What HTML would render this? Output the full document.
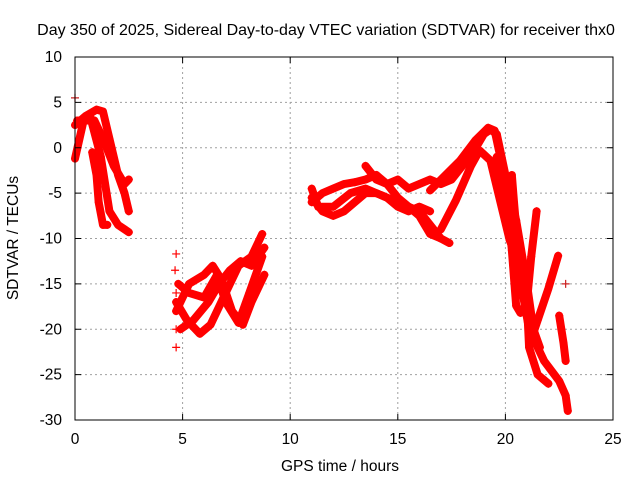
<!DOCTYPE html>
<html><head><meta charset="utf-8"><style>
body{margin:0;background:#fff}
svg{display:block;font-family:"Liberation Sans",sans-serif;font-size:15.5px}
</style></head><body>
<svg id="chart" width="640" height="480">
<text x="326" y="35" text-anchor="middle" style="font-size:16px">Day 350 of 2025, Sidereal Day-to-day VTEC variation (SDTVAR) for receiver thx0</text>
<text x="340" y="471" text-anchor="middle">GPS time / hours</text>
<text x="18" y="238" text-anchor="middle" transform="rotate(-90 18 238)">SDTVAR / TECUs</text>
<g id="grid"></g><g id="marks"></g>
<rect x="75" y="57" width="538" height="363" fill="none" stroke="#000"/>
<g id="ticks"></g>
</svg>
<script>
const xTicks=[0,5,10,15,20,25];
const yTicks=[10,5,0,-5,-10,-15,-20,-25,-30];
const trackA1=[[0,2.5],[0.5,3.5],[1,4.2],[1.3,4],[1.6,1],[2,-3],[2.3,-5],[2.5,-7]];
const trackA2=[[0,-1.2],[0.4,3],[0.7,3.5],[1.2,-1],[1.6,-7],[2,-8.5],[2.5,-9.3]];
const trackA3=[[0.1,3],[0.9,3],[1.3,1],[1.8,-2],[2.3,-4],[2.5,-3.5]];
const trackA4=[[0.8,-0.5],[1,-3],[1.1,-6],[1.3,-8.5],[1.5,-8.5]];
const trackB1=[[4.7,-17],[5.2,-19],[5.8,-20.5],[6.3,-19.5],[7,-16],[7.6,-13],[8.2,-12],[8.7,-9.5]];
const trackB2=[[4.8,-15],[5.3,-16],[6,-16.5],[6.6,-14],[7,-17],[7.6,-19.3],[8.1,-16],[8.7,-12]];
const trackB3=[[4.7,-18],[5.3,-15],[6,-14],[6.4,-13],[6.8,-14.5],[7.3,-18],[7.8,-19.5],[8.2,-17],[8.8,-14]];
const trackB4=[[4.9,-20],[5.5,-19],[6.2,-17],[6.7,-15],[7.2,-13.5],[7.7,-12.5],[8.2,-13],[8.8,-11]];
const trackB5=[[4.7,-11.7],[4.65,-13.5],[4.7,-16],[4.7,-20],[4.7,-22]];
const trackC1=[[11,-5.5],[11.5,-7],[12,-7.5],[12.5,-7],[13,-6],[13.5,-5],[14,-5],[14.5,-5.5],[15,-6],[15.5,-6.5],[16,-7],[16.5,-8.5],[17,-10],[17.4,-10.5]];
const trackC2=[[11,-6],[11.5,-5],[12,-4.5],[12.5,-4],[13,-3.8],[13.5,-3.5],[14,-3],[14.5,-4],[15,-5.5],[15.5,-6.5],[16,-7.5],[16.5,-9.5],[17,-10]];
const trackC3=[[11,-4.5],[11.3,-6.5],[12,-6.5],[12.8,-5],[13.5,-4.5],[14.5,-5.5],[15,-6.5],[15.5,-7],[16,-6.5],[16.5,-7]];
const trackC4=[[13.5,-2],[14,-3.5],[14.5,-4],[15,-3.5],[15.5,-4.5],[16,-4],[16.5,-3.5],[17,-4],[17.5,-3.5],[18,-2],[18.5,-0.5],[19,1.5],[19.3,2],[19.6,1.5],[20,-3],[20.5,-8],[21,-15],[21.3,-20],[21.6,-22]];
const trackD1=[[16.5,-4.7],[17.9,-1.4],[18.6,0.8],[19.2,2.2],[19.5,1.9],[20,-3.6],[20.3,-11.3],[20.5,-17.4],[20.7,-18.2]];
const trackD2=[[17,-9],[17.7,-5.8],[18.4,-2],[18.8,-0.3],[19.3,-1.4],[19.75,-5.8],[20.2,-10.2],[20.6,-12.5]];
const trackD3=[[19.6,-1],[20,-5],[20.3,-3],[20.4,-6],[20.6,-11.5]];
const trackD4=[[21.45,-7],[21.2,-12],[21,-17],[21.1,-22],[21.5,-25],[22,-26]];
const trackD5=[[22.45,-11.9],[22,-15.5],[21.5,-19],[21.1,-21.8]];
const trackD6=[[20,-4],[20.7,-14.7],[21.1,-20],[21.8,-23.5],[22.5,-25.7],[22.8,-27.3],[22.9,-29]];
const trackD7=[[22.5,-18.5],[22.6,-20],[22.7,-21.5],[22.8,-23.5]];
const trackE=[[0,5.5],[22.8,-15]];
const tracks=[trackA1,trackA2,trackA3,trackA4,trackB1,trackB2,trackB3,trackB4,trackC1,trackC2,trackC3,trackC4,trackD1,trackD2,trackD3,trackD4,trackD5,trackD6,trackD7];
const NS='http://www.w3.org/2000/svg';
const X0=75,X1=613,Y0=420,Y1=57;
function sx(h){return X0+(h-0)/(25-0)*(X1-X0);}
function sy(v){return Y0-(v+30)/(40)*(Y0-Y1);}
const grid=document.getElementById('grid'),ticks=document.getElementById('ticks'),marks=document.getElementById('marks');
function mk(tag,attrs,parent){const e=document.createElementNS(NS,tag);for(const k in attrs)e.setAttribute(k,attrs[k]);parent.appendChild(e);return e;}
xTicks.forEach(t=>{
 const x=sx(t);
 if(t>0&&t<25){const g=mk('line',{x1:x,x2:x,y1:Y1,y2:Y0,stroke:'#a0a0a0','stroke-dasharray':'2,3'},grid);
 
 }
 const l=mk('text',{x:x,y:444,'text-anchor':'middle'},ticks);l.textContent=t;
 
 
 mk('line',{x1:x,x2:x,y1:Y0,y2:Y0-6,stroke:'#000'},ticks);
 mk('line',{x1:x,x2:x,y1:Y1,y2:Y1+6,stroke:'#000'},ticks);
});
yTicks.forEach(t=>{
 const y=sy(t);
 if(t>-30&&t<10){const g=mk('line',{x1:X0,x2:X1,y1:y,y2:y,stroke:'#a0a0a0','stroke-dasharray':'2,3'},grid);
 
 }
 const l=mk('text',{x:62,y:y+5,'text-anchor':'end'},ticks);l.textContent=t;
 
 
 mk('line',{x1:X0,x2:X0+6,y1:y,y2:y,stroke:'#000'},ticks);
 mk('line',{x1:X1,x2:X1-6,y1:y,y2:y,stroke:'#000'},ticks);
});
function cross(h,v,color){
 const x=sx(h),y=sy(v);
 const p=mk('path',{d:`M${x-4},${y}H${x+4}M${x},${y-4}V${y+4}`,stroke:color,'stroke-width':1.2},marks);
 
 
}
tracks.forEach(tr=>{
 const pl=mk('polyline',{points:tr.map(p=>sx(p[0])+','+sy(p[1])).join(' '),fill:'none',stroke:'#ff0000','stroke-width':8,'stroke-linejoin':'round','stroke-linecap':'round'},marks);
 
 
 tr.forEach(p=>cross(p[0],p[1],'#ff0000'));
});
trackB5.forEach(p=>cross(p[0],p[1],'#ff0000'));
trackE.forEach(p=>cross(p[0],p[1],'#cc2020'));
</script>
</body></html>
